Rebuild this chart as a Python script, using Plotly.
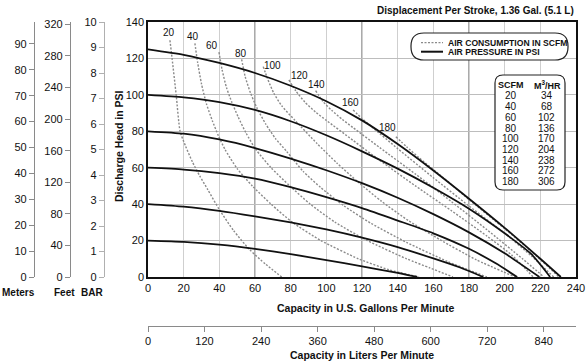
import plotly.graph_objects as go

# ---------------- data ----------------
GPM_TICKS = list(range(0, 241, 20))
PSI_TICKS = list(range(0, 141, 20))
LPM_TICKS = list(range(0, 841, 120))
METER_TICKS = list(range(0, 91, 10))
FEET_TICKS = list(range(0, 321, 40))
BAR_TICKS = list(range(0, 11))
DARK_GRID_GPM = [60, 120, 180]

# air pressure curves (psi) : flow gpm -> discharge head psi
p20_q = [0, 20, 40, 60, 80, 100, 120, 140, 151]
p20_p = [20, 19.3, 17.8, 15.5, 12.6, 9.3, 5.8, 2.3, 0]
p40_q = [0, 20, 40, 60, 80, 100, 120, 140, 160, 175, 188]
p40_p = [40, 38.6, 36.3, 33.3, 30, 26.1, 21.6, 16.4, 10.2, 5.2, 0]
p60_q = [0, 20, 40, 60, 80, 100, 120, 140, 160, 180, 195, 207]
p60_p = [60, 59, 57, 54, 49.3, 43.8, 37.8, 31, 24, 15.5, 7.5, 0]
p80_q = [0, 20, 40, 60, 80, 100, 120, 140, 160, 180, 200, 219.5]
p80_p = [80, 78.7, 75.5, 70.8, 65, 58.6, 51.5, 43.5, 34.5, 24.5, 13, 0]
p100_q = [0, 20, 40, 60, 80, 100, 120, 140, 160, 180, 200, 215, 225.5]
p100_p = [100, 98.6, 96, 91.7, 85.5, 77.8, 69, 59.5, 49, 37.5, 24, 12.5, 0]
p120_q = [0, 20, 40, 60, 80, 100, 120, 140, 160, 180, 200, 220, 231.5]
p120_p = [125, 122, 117.5, 112, 105, 96.5, 86, 73, 58.5, 43, 27, 10, 0]

# air consumption curves (scfm)
s20_q = [12.3, 13.5, 15.8, 18, 21, 25, 29, 33.5, 40, 48, 57, 66, 75]
s20_p = [130, 120, 100, 80, 72, 63, 55.5, 48, 37, 25.5, 15, 7, 0]
s40_q = [26.3, 27.8, 30, 32.8, 36, 39.5, 43.2, 50, 58.5, 69, 81, 97, 118, 135, 152]
s40_p = [128.3, 118, 106, 95, 86, 77.5, 70, 59.5, 50, 40, 30, 20, 10, 4, 0]
s60_q = [39.8, 41.5, 44, 47, 50.5, 55, 60.5, 69, 79.5, 91, 105, 123, 145, 158, 171]
s60_p = [123.4, 114, 104, 96, 88, 79, 70, 60, 50, 40, 30, 20, 10, 5, 0]
s80_q = [52.5, 54.5, 57.5, 61, 66, 71.5, 77.7, 87, 97, 110, 125, 145, 168, 190]
s80_p = [119.5, 110, 101, 93, 84, 76, 69, 58, 49, 39, 29.5, 19, 8.5, 0]
s100_q = [64.6, 67, 70.5, 75, 82.4, 94.6, 106, 118, 131, 146, 163.7, 184, 206]
s100_p = [115.5, 109, 101, 94, 86, 73.5, 62.5, 52, 41.5, 31, 20.5, 9.5, 0]
s120_q = [79, 83, 88, 94, 100, 115, 130, 150, 170, 190, 204, 216]
s120_p = [108.2, 102, 96, 90.5, 86, 75, 64, 50, 36.5, 22.5, 12, 0]
s140_q = [94, 98, 103, 109, 115, 130, 150, 170, 190, 210, 222]
s140_p = [102.3, 96.5, 91.5, 86.5, 82, 71, 56.5, 41.5, 26, 10, 0]
s160_q = [115, 120, 126, 140, 160, 180, 200, 215, 227.5]
s160_p = [91.7, 87, 82, 70.5, 54.5, 39, 24, 11.5, 0]
s180_q = [139, 145, 152, 165, 180, 200, 215, 230.5]
s180_p = [77, 71.5, 65.5, 55, 42.5, 26.5, 14, 0]

SCFM_LABELS = ["20", "40", "60", "80", "100", "120", "140", "160", "180"]
TABLE_SCFM = [20, 40, 60, 80, 100, 120, 140, 160, 180]
TABLE_M3HR = [34, 68, 102, 136, 170, 204, 238, 272, 306]

GAL_TO_L = 3.78541
PSI_PER_M = 1.42197
PSI_PER_FT = 0.433515

pressure_curves = [(p20_q, p20_p), (p40_q, p40_p), (p60_q, p60_p),
                   (p80_q, p80_p), (p100_q, p100_p), (p120_q, p120_p)]
scfm_curves = [(s20_q, s20_p), (s40_q, s40_p), (s60_q, s60_p), (s80_q, s80_p),
               (s100_q, s100_p), (s120_q, s120_p), (s140_q, s140_p),
               (s160_q, s160_p), (s180_q, s180_p)]

# ---------------- layout geometry ----------------
W, H = 586, 364
ML, MR, MT, MB = 0, 10, 22, 2
PW, PH = W - ML - MR, H - MT - MB


def fx(x):
    return (x - ML) / PW


def fy(y):
    return (H - MB - y) / PH


FONT = "Liberation Sans Narrow, Arial Narrow, Liberation Sans, Arial, sans-serif"
DASH_COLOR = "#8a8a8a"

fig = go.Figure()

for q, p in scfm_curves:
    fig.add_trace(go.Scatter(x=q, y=p, mode="lines",
                             line=dict(color=DASH_COLOR, width=1.4, dash="2px,1.6px",
                                       shape="spline", smoothing=0.6),
                             hoverinfo="skip", showlegend=False))
for q, p in pressure_curves:
    fig.add_trace(go.Scatter(x=q, y=p, mode="lines",
                             line=dict(color="#111111", width=1.8, shape="spline", smoothing=0.6),
                             hoverinfo="skip", showlegend=False))

# dummy traces to activate extra axes
for xa, ya in [("x", "y2"), ("x", "y3"), ("x", "y4"), ("x2", "y")]:
    fig.add_trace(go.Scatter(x=[0], y=[0], xaxis=xa, yaxis=ya, mode="markers",
                             marker=dict(opacity=0, size=1), hoverinfo="skip", showlegend=False))

tickfont = dict(family=FONT, size=11, color="#111")
side_axis = dict(anchor="free", overlaying="y", side="left", showgrid=False, zeroline=False,
                 showline=True, linecolor="#8a8a8a", linewidth=1.2, ticks="outside",
                 ticklen=5, tickcolor="#8a8a8a", tickwidth=1, tickfont=tickfont,
                 fixedrange=True, automargin=False)

fig.update_layout(
    width=W, height=H, margin=dict(l=ML, r=MR, t=MT, b=MB, pad=0, autoexpand=False),
    paper_bgcolor="white", plot_bgcolor="white", showlegend=False,
    font=dict(family=FONT, size=11, color="#111"),
    xaxis=dict(domain=[fx(148), 1], range=[0, 240], tickvals=GPM_TICKS,
               showgrid=True, gridcolor="#cfcfcf", gridwidth=1, zeroline=False,
               showline=True, linecolor="#111", linewidth=1.6, mirror=True,
               ticks="", tickfont=tickfont, fixedrange=True, automargin=False),
    yaxis=dict(domain=[fy(277), fy(22)], range=[0, 140], tickvals=PSI_TICKS,
               showgrid=True, gridcolor="#bdbdbd", gridwidth=1, zeroline=False,
               showline=True, linecolor="#111", linewidth=1.6, mirror=True,
               ticks="", tickfont=tickfont, fixedrange=True, automargin=False),
    yaxis2=dict(side_axis, position=fx(34), range=[0, 140 / PSI_PER_M], tickvals=METER_TICKS),
    yaxis3=dict(side_axis, position=fx(70), range=[0, 140 / PSI_PER_FT], tickvals=FEET_TICKS),
    yaxis4=dict(side_axis, position=fx(104), range=[0, 10], tickvals=BAR_TICKS,
                linecolor="#b0b0b0", tickcolor="#b0b0b0"),
    xaxis2=dict(anchor="free", overlaying="x", side="bottom", position=fy(326),
                range=[0, 240 * GAL_TO_L], tickvals=LPM_TICKS, showgrid=False,
                zeroline=False, showline=True, linecolor="#8a8a8a", linewidth=1.2,
                ticks="outside", ticklen=5, tickcolor="#8a8a8a", tickfont=tickfont,
                fixedrange=True, automargin=False),
)

shapes = []
# darker vertical grid lines
for g in DARK_GRID_GPM:
    shapes.append(dict(type="line", xref="x", yref="y", x0=g, x1=g, y0=0, y1=140,
                       line=dict(color="#7d7d7d", width=1.3), layer="below"))


def rounded_rect(x0, y0, x1, y1, r):
    rx, ry = r, r
    pts = [
        f"M {fx(x0 + rx)},{fy(y0)}",
        f"L {fx(x1 - rx)},{fy(y0)}",
        f"Q {fx(x1)},{fy(y0)} {fx(x1)},{fy(y0 + ry)}",
        f"L {fx(x1)},{fy(y1 - ry)}",
        f"Q {fx(x1)},{fy(y1)} {fx(x1 - rx)},{fy(y1)}",
        f"L {fx(x0 + rx)},{fy(y1)}",
        f"Q {fx(x0)},{fy(y1)} {fx(x0)},{fy(y1 - ry)}",
        f"L {fx(x0)},{fy(y0 + ry)}",
        f"Q {fx(x0)},{fy(y0)} {fx(x0 + rx)},{fy(y0)}",
        "Z",
    ]
    return " ".join(pts)


# legend pill
shapes.append(dict(type="path", xref="paper", yref="paper",
                   path=rounded_rect(411, 33, 568, 60, 13),
                   fillcolor="white", line=dict(color="#222", width=1.2), layer="above"))
shapes.append(dict(type="line", xref="paper", yref="paper", x0=fx(421), x1=fx(443),
                   y0=fy(42.7), y1=fy(42.7),
                   line=dict(color=DASH_COLOR, width=1.2, dash="2px,1.5px")))
shapes.append(dict(type="line", xref="paper", yref="paper", x0=fx(421), x1=fx(443),
                   y0=fy(51.7), y1=fy(51.7), line=dict(color="#111", width=2)))
# table box
shapes.append(dict(type="path", xref="paper", yref="paper",
                   path=rounded_rect(495, 75, 565, 190, 8),
                   fillcolor="white", line=dict(color="#222", width=1.2), layer="above"))

annotations = []


def bfont(size):
    return dict(family=FONT, size=size, color="#111")


# titles
annotations.append(dict(xref="paper", yref="paper", x=fx(576), y=fy(11), xanchor="right",
                        yanchor="middle", showarrow=False,
                        text="<b>Displacement Per Stroke, 1.36 Gal. (5.1 L)</b>", font=bfont(10)))
annotations.append(dict(xref="paper", yref="paper", x=fx(119), y=fy(146), textangle=-90,
                        xanchor="center", yanchor="middle", showarrow=False,
                        text="<b>Discharge Head in PSI</b>", font=bfont(10.5)))
annotations.append(dict(xref="paper", yref="paper", x=fx(366), y=fy(308), xanchor="center",
                        yanchor="middle", showarrow=False,
                        text="<b>Capacity in U.S. Gallons Per Minute</b>", font=bfont(10.5)))
annotations.append(dict(xref="paper", yref="paper", x=fx(362), y=fy(355), xanchor="center",
                        yanchor="middle", showarrow=False,
                        text="<b>Capacity in Liters Per Minute</b>", font=bfont(10.5)))
for name, cx in [("Meters", 18), ("Feet", 64), ("BAR", 92)]:
    annotations.append(dict(xref="paper", yref="paper", x=fx(cx), y=fy(292), xanchor="center",
                            yanchor="middle", showarrow=False, text=f"<b>{name}</b>",
                            font=bfont(10)))

# legend text
annotations.append(dict(xref="paper", yref="paper", x=fx(446), y=fy(42.7), xanchor="left",
                        yanchor="middle", showarrow=False,
                        text="<b>AIR CONSUMPTION IN SCFM</b>", font=bfont(8.6)))
annotations.append(dict(xref="paper", yref="paper", x=fx(446), y=fy(52), xanchor="left",
                        yanchor="middle", showarrow=False,
                        text="<b>AIR PRESSURE IN PSI</b>", font=bfont(8.6)))

# table
annotations.append(dict(xref="paper", yref="paper", x=fx(510.5), y=fy(85), xanchor="center",
                        yanchor="middle", showarrow=False, text="<b>SCFM</b>", font=bfont(9)))
annotations.append(dict(xref="paper", yref="paper", x=fx(547), y=fy(85), xanchor="center",
                        yanchor="middle", showarrow=False, text="<b>M<sup>3</sup>/HR</b>",
                        font=bfont(9)))
for i, (a, b) in enumerate(zip(TABLE_SCFM, TABLE_M3HR)):
    yy = 95.8 + i * 10.74
    annotations.append(dict(xref="paper", yref="paper", x=fx(510.5), y=fy(yy), xanchor="center",
                            yanchor="middle", showarrow=False, text=str(a),
                            font=dict(family=FONT, size=10, color="#111")))
    annotations.append(dict(xref="paper", yref="paper", x=fx(546.5), y=fy(yy), xanchor="center",
                            yanchor="middle", showarrow=False, text=str(b),
                            font=dict(family=FONT, size=10, color="#111")))

# SCFM curve labels (placed relative to the start of each dashed curve)
LABEL_SHIFTS = [(-1, 7.5), (-1.7, 7), (-7.3, 6.5), (-1, 6.3), (9.7, 0.7),
                (10.5, 4), (1, 5.7), (-2.6, 7.5), (-8.5, 9.2)]
for lab, (q, p), (dx, dy) in zip(SCFM_LABELS, scfm_curves, LABEL_SHIFTS):
    annotations.append(dict(xref="x", yref="y", x=q[0], y=p[0], xshift=dx, yshift=dy,
                            xanchor="center", yanchor="middle", showarrow=False, text=lab,
                            font=dict(family=FONT, size=10, color="#111")))

fig.update_layout(shapes=shapes, annotations=annotations)
fig.write_html("out.html", config={"displayModeBar": False},
               post_script="document.body.style.margin='0';document.body.style.padding='0';"
                           "document.documentElement.style.overflow='hidden';")
